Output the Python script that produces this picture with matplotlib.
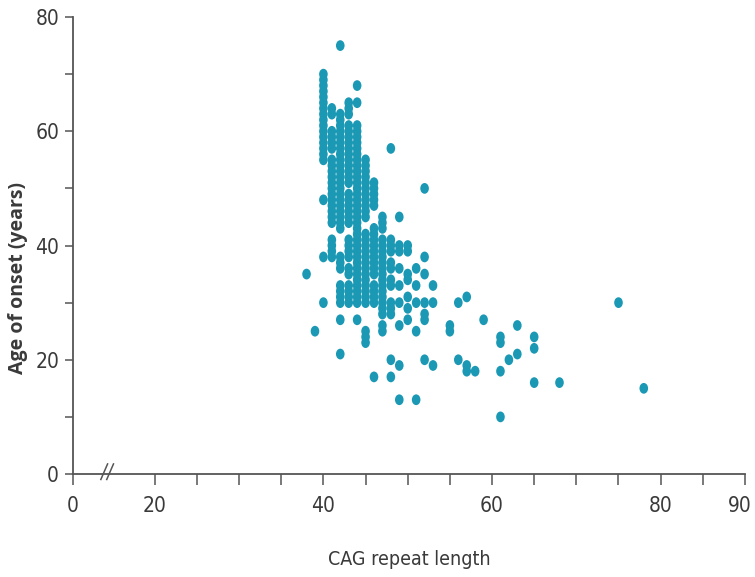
import matplotlib
matplotlib.use("Agg")
import matplotlib.pyplot as plt
from matplotlib import font_manager
from matplotlib.markers import MarkerStyle
from matplotlib.transforms import Affine2D, ScaledTranslation, blended_transform_factory

# CAG repeat length (x) and the ages of onset seen in each column
cag_lengths = [38, 39, 40, 41, 42, 43, 44, 45, 46, 47, 48, 49, 50, 51, 52, 53,
               55, 56, 57, 58, 59, 61, 62, 63, 65, 68, 75, 78]
onset_ages = [
    [35],
    [25],
    [70, 69, 68, 67, 66, 65, 64, 63, 62, 61, 60, 59, 58, 57, 56, 55, 48, 38, 30],
    [64, 63, 60, 59, 58, 57, 55, 54, 53, 52, 51, 50, 49, 48, 47, 46, 45, 44, 41, 40, 39, 38],
    [75, 63, 62, 61, 60, 59, 58, 57, 56, 55, 54, 53, 52, 51, 50, 49, 48, 47, 46, 45, 44, 43,
     38, 37, 36, 33, 32, 31, 30, 27, 21],
    [65, 64, 63, 61, 60, 59, 58, 57, 56, 55, 54, 53, 52, 51, 49, 48, 47, 46, 45, 44,
     41, 40, 39, 38, 36, 35, 33, 32, 31, 30],
    [68, 65, 61, 60, 59, 58, 57, 56, 55, 54, 53, 52, 51, 50, 49, 48, 47, 46, 45, 44, 43, 42,
     41, 40, 39, 38, 37, 36, 35, 34, 33, 32, 31, 30, 27],
    [55, 54, 53, 52, 51, 50, 49, 48, 47, 46, 45, 42, 41, 40, 39, 38, 37, 36, 35, 34, 33, 32,
     31, 30, 25, 24, 23],
    [51, 50, 49, 48, 47, 43, 42, 41, 40, 39, 38, 37, 36, 35, 33, 32, 31, 30, 17],
    [45, 44, 43, 41, 40, 39, 38, 37, 36, 35, 34, 33, 32, 31, 30, 29, 28, 26, 25],
    [57, 41, 40, 39, 37, 36, 34, 33, 30, 29, 28, 20, 17],
    [45, 40, 39, 36, 33, 30, 26, 19, 13],
    [40, 39, 35, 34, 31, 29, 27],
    [36, 33, 30, 25, 13],
    [50, 38, 35, 30, 28, 27, 20],
    [33, 30, 19],
    [26, 25],
    [30, 20],
    [31, 19, 18],
    [18],
    [27],
    [24, 23, 18, 10],
    [20],
    [26, 21],
    [24, 22, 16],
    [16],
    [30],
    [15],
]

x_major = [20, 40, 60, 80, 90]
y_major = [0, 20, 40, 60, 80]
y_minor = [10, 30, 50, 70]

xs = []
ys = []
for cag, ages in zip(cag_lengths, onset_ages):
    for a in ages:
        xs.append(cag)
        ys.append(a)

fonts = font_manager.fontManager.ttflist
names = {f.name for f in fonts}
if 'Liberation Sans Narrow' in names:
    narrow, stretch = 'Liberation Sans Narrow', 'normal'
elif any(f.name == 'DejaVu Sans' and f.stretch == 'condensed' for f in fonts):
    narrow, stretch = 'DejaVu Sans', 'condensed'
else:
    narrow, stretch = 'Liberation Sans', 'normal'
label_font = 'Open Sans' if 'Open Sans' in names else 'DejaVu Sans'

axis_grey = '#555555'
text_grey = '#3a3a3a'
dot_color = '#1a98b4'

fig = plt.figure(figsize=(7.55, 5.77), dpi=100)
ax = fig.add_axes([0.0967, 0.1785, 0.890, 0.792])

# the axis is broken between 0 and 20; "0" sits at the left end
x_zero = 10.3
dot = MarkerStyle('o', transform=Affine2D().scale(0.8, 1.0))
ax.scatter(xs, ys, s=60, marker=dot, color=dot_color, edgecolors='none', zorder=3)

ax.set_xlim(x_zero, 90)
ax.set_ylim(0, 80)

xticks = [x_zero] + list(range(20, 91, 5))
xlabels = ['0'] + [str(v) if v in x_major else '' for v in range(20, 91, 5)]
ax.set_xticks(xticks)
ax.set_xticklabels(xlabels)
ax.set_yticks(y_major)
ax.set_yticks(y_minor, minor=True)

for side in ['top', 'right']:
    ax.spines[side].set_visible(False)
for side in ['left', 'bottom']:
    ax.spines[side].set_color(axis_grey)
    ax.spines[side].set_linewidth(1.3)

ax.tick_params(axis='x', which='major', length=8, width=1.1, color=axis_grey,
               pad=8, labelsize=15, labelcolor=text_grey)
ax.tick_params(axis='y', which='both', length=6, width=1.1, color=axis_grey,
               pad=4, labelsize=15, labelcolor=text_grey)
for lbl in ax.get_xticklabels() + ax.get_yticklabels():
    lbl.set_fontfamily(narrow)
    lbl.set_fontstretch(stretch)

# keep "90" inside the picture
last = ax.get_xticklabels()[-1]
last.set_transform(last.get_transform() + ScaledTranslation(-4 / 72, 0, fig.dpi_scale_trans))

# break mark "//" on the x axis
trans = blended_transform_factory(ax.transData, ax.transAxes)
for dx in [0.0, 0.7]:
    ax.plot([13.6 + dx, 14.4 + dx], [-0.012, 0.022], color=axis_grey, lw=1.1,
            transform=trans, clip_on=False, zorder=4)

ax.set_xlabel('CAG repeat length', fontsize=14, color=text_grey,
              fontfamily=narrow, fontstretch=stretch, labelpad=24)
ax.set_ylabel('Age of onset (years)', fontsize=14, color=text_grey,
              fontfamily=label_font, fontweight='bold')
ax.yaxis.set_label_coords(-0.067, 0.43)

fig.savefig('out.png', dpi=100)
